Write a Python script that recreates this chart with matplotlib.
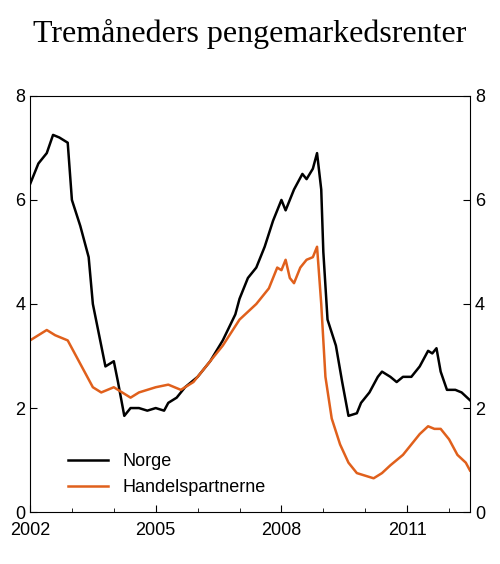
import matplotlib.pyplot as plt

norge_t = [2002.0, 2002.2, 2002.4, 2002.55, 2002.7, 2002.9, 2003.0, 2003.2, 2003.4, 2003.5,
           2003.7, 2003.8, 2004.0, 2004.1, 2004.25, 2004.4, 2004.6, 2004.8, 2005.0, 2005.2,
           2005.3, 2005.5, 2005.7, 2006.0, 2006.3, 2006.6, 2006.9, 2007.0, 2007.2, 2007.4,
           2007.6, 2007.8, 2008.0, 2008.1, 2008.3, 2008.5, 2008.6, 2008.75, 2008.85, 2008.95,
           2009.0, 2009.1, 2009.3, 2009.45, 2009.6, 2009.8, 2009.9, 2010.1, 2010.3, 2010.4,
           2010.6, 2010.75, 2010.9, 2011.1, 2011.3, 2011.5, 2011.6, 2011.7, 2011.8, 2011.95,
           2012.15, 2012.3, 2012.5]
norge_v = [6.3, 6.7, 6.9, 7.25, 7.2, 7.1, 6.0, 5.5, 4.9, 4.0,
           3.2, 2.8, 2.9, 2.5, 1.85, 2.0, 2.0, 1.95, 2.0, 1.95,
           2.1, 2.2, 2.4, 2.6, 2.9, 3.3, 3.8, 4.1, 4.5, 4.7,
           5.1, 5.6, 6.0, 5.8, 6.2, 6.5, 6.4, 6.6, 6.9, 6.2,
           5.0, 3.7, 3.2, 2.5, 1.85, 1.9, 2.1, 2.3, 2.6, 2.7,
           2.6, 2.5, 2.6, 2.6, 2.8, 3.1, 3.05, 3.15, 2.7, 2.35,
           2.35, 2.3, 2.15]

handel_t = [2002.0, 2002.2, 2002.4, 2002.6, 2002.9, 2003.1, 2003.3, 2003.5, 2003.7, 2004.0,
            2004.2, 2004.4, 2004.6, 2005.0, 2005.3, 2005.6, 2005.9, 2006.2, 2006.6, 2007.0,
            2007.4, 2007.7, 2007.9, 2008.0, 2008.1, 2008.2, 2008.3, 2008.45, 2008.6, 2008.75,
            2008.85, 2008.95, 2009.05, 2009.2, 2009.4, 2009.6, 2009.8, 2010.0, 2010.2, 2010.4,
            2010.6, 2010.9, 2011.1, 2011.3, 2011.5, 2011.65, 2011.8, 2012.0, 2012.2, 2012.4,
            2012.5]
handel_v = [3.3, 3.4, 3.5, 3.4, 3.3, 3.0, 2.7, 2.4, 2.3, 2.4,
            2.3, 2.2, 2.3, 2.4, 2.45, 2.35, 2.5, 2.8, 3.2, 3.7,
            4.0, 4.3, 4.7, 4.65, 4.85, 4.5, 4.4, 4.7, 4.85, 4.9,
            5.1, 4.0, 2.6, 1.8, 1.3, 0.95, 0.75, 0.7, 0.65, 0.75,
            0.9, 1.1, 1.3, 1.5, 1.65, 1.6, 1.6, 1.4, 1.1, 0.95,
            0.8]

plt.rcParams['font.family'] = 'Liberation Sans'
fig = plt.figure(figsize=(5, 5.64), dpi=100)
ax = fig.add_axes([0.06, 0.092, 0.88, 0.738])
ax.plot(norge_t, norge_v, color='black', lw=1.8, label='Norge')
ax.plot(handel_t, handel_v, color='#e0601c', lw=1.8, label='Handelspartnerne')
ax.set_xlim(2002, 2012.5)
ax.set_ylim(0, 8)
ax.set_yticks([0, 2, 4, 6, 8])
ax.set_xticks([2002, 2005, 2008, 2011])
ax.set_xticks(range(2003, 2013), minor=True)
ax.tick_params(direction='in', labelsize=13, length=5)
ax.tick_params(axis='x', pad=7)
ax.tick_params(which='minor', direction='in', length=3)
ax.tick_params(axis='y', right=True, labelright=True)
ax.legend(loc='lower left', bbox_to_anchor=(0.05, 0.0), frameon=False, fontsize=13,
          handlelength=2.2)
fig.text(0.5, 0.94, 'Tremåneders pengemarkedsrenter', ha='center', va='center',
         fontsize=23, family='Liberation Serif')
fig.savefig('out.png')
